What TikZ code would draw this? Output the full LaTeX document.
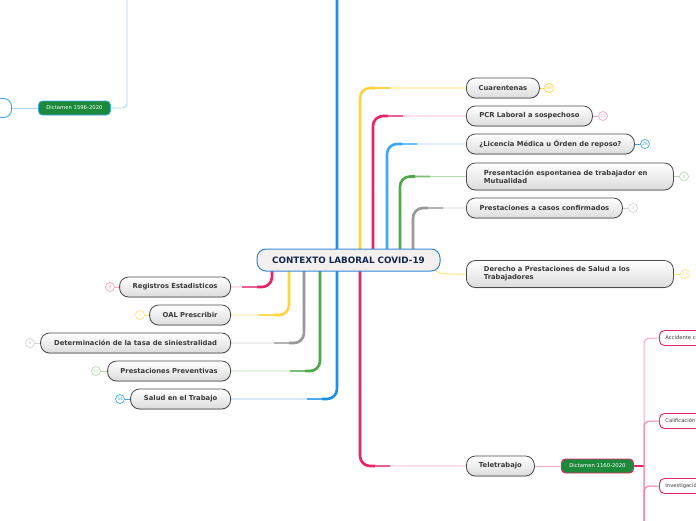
\documentclass[tikz,border=0pt]{standalone}
\usepackage{fontspec}
\newfontfamily\mmfont{DejaVu Sans}
\usetikzlibrary{shadows,calc}
\pgfdeclarelayer{back}
\pgfdeclarelayer{bg}
\pgfsetlayers{back,bg,main}
\definecolor{yelS}{HTML}{FFD53D}
\definecolor{yelL}{HTML}{FFE27A}
\definecolor{crimS}{HTML}{E3266B}
\definecolor{crimL}{HTML}{F6A5C2}
\definecolor{crimM}{HTML}{F07CA6}
\definecolor{lblueS}{HTML}{3FA9EE}
\definecolor{lblueL}{HTML}{A9D7F5}
\definecolor{greenS}{HTML}{4EA94B}
\definecolor{greenL}{HTML}{B3DCAE}
\definecolor{grayS}{HTML}{999999}
\definecolor{grayL}{HTML}{D2D2D2}
\definecolor{blueS}{HTML}{1E8FE6}
\definecolor{blueL}{HTML}{8CC8F2}
\definecolor{navy}{HTML}{13284D}
\definecolor{coreborder}{HTML}{3388D6}
\definecolor{corefill}{HTML}{F4F0F0}
\definecolor{topicborder}{HTML}{4A4A4A}
\definecolor{topicbot}{HTML}{DCDCDC}
\definecolor{topictext}{HTML}{3A3A3A}
\definecolor{dictgreen}{HTML}{1D8A3B}
\newcommand\mmbranch[5]{%
  \draw[line width=0.9pt,#4,rounded corners=10pt] (#1) |- (#2);
  \draw[line width=1.6pt,#3!55!#4,rounded corners=10pt] (#1) |- ($(#1 |- #2)+(2*#5,0)$);
  \draw[line width=2.6pt,#3,rounded corners=10pt] (#1) |- ($(#1 |- #2)+(#5,0)$);}
\tikzset{
  topic/.style={draw=topicborder, line width=0.8pt, rounded corners=9pt,
    top color=white, bottom color=topicbot, minimum height=20pt, inner sep=2pt,
    font=\mmfont\fontsize{6.8}{8.2}\selectfont\bfseries, text=topictext,
    drop shadow={shadow xshift=0pt, shadow yshift=-0.8pt, opacity=0.3}},
  topictwo/.style={topic, minimum height=27pt, text width=172pt, align=left},
  core/.style={draw=coreborder, line width=1pt, rounded corners=9pt, fill=corefill,
    minimum width=183pt, minimum height=22pt, inner sep=2pt,
    font=\mmfont\fontsize{8.8}{10}\selectfont\bfseries, text=navy},
  badge/.style={circle, draw=#1, text=#1, fill=white, line width=0.7pt,
    minimum size=9pt, inner sep=0pt, font=\mmfont\fontsize{4.3}{4.3}\selectfont},
  dict/.style={draw=#1, fill=dictgreen, line width=0.9pt, rounded corners=4pt,
    minimum width=72pt, minimum height=14pt, inner sep=1pt, text=white,
    font=\mmfont\fontsize{5.3}{6}\selectfont},
  child/.style={draw=crimS, fill=white, line width=0.9pt, rounded corners=5pt,
    minimum height=15pt, inner xsep=6pt, inner ysep=1pt, text=topictext,
    font=\mmfont\fontsize{5.2}{6}\selectfont},
  thinline/.style={line width=0.8pt}
}
\begin{document}
\begin{tikzpicture}[x=1pt,y=-1pt]
\useasboundingbox (0,0) rectangle (696,520);
\begin{pgfonlayer}{back}
  \fill[white] (0,0) rectangle (696,520);
\end{pgfonlayer}

% central node
\node[core] (ctr) at (348.5,260) {CONTEXTO LABORAL COVID-19};

% right topics
\node[topic, anchor=west, minimum width=73pt] (cuar) at (466,88) {Cuarentenas};
\node[topic, anchor=west, minimum width=126pt] (pcr) at (466,116) {PCR Laboral a sospechoso};
\node[topic, anchor=west, minimum width=168pt] (lic) at (466,144) {¿Licencia Médica u Órden de reposo?};
\node[topictwo, anchor=west, minimum width=207pt] (pres) at (466,176.5) {Presentación espontanea de trabajador en\\Mutualidad};
\node[topic, anchor=west, minimum width=156pt] (casos) at (466,208) {Prestaciones a casos confirmados};
\node[topictwo, anchor=west, minimum width=207pt] (der) at (466,274) {Derecho a Prestaciones de Salud a los\\Trabajadores};
\node[topic, anchor=west, minimum width=68pt] (tele) at (466,466) {Teletrabajo};

% left topics
\node[topic, anchor=east, minimum width=111pt] (reg) at (231,287) {Registros Estadisticos};
\node[topic, anchor=east, minimum width=81pt] (oal) at (231,315) {OAL Prescribir};
\node[topic, anchor=east, minimum width=190pt] (det) at (231,343) {Determinación de la tasa de siniestralidad};
\node[topic, anchor=east, minimum width=123pt] (prev) at (231,371) {Prestaciones Preventivas};
\node[topic, anchor=east, minimum width=100pt] (salud) at (231,399) {Salud en el Trabajo};

% badges
\node[badge=yelS] (b1) at (549,88) {68};
\node[badge=crimL] (b2) at (603,116) {12};
\node[badge=lblueS] (b3) at (645,144) {26};
\node[badge=greenL] (b4) at (684,176.5) {8};
\node[badge=grayL] (b5) at (633,208) {3};
\node[badge=yelL] (b6) at (685,274) {13};
\node[badge=crimL] (b7) at (110,287) {9};
\node[badge=yelL] (b8) at (140,315) {2};
\node[badge=grayL] (b9) at (30,343) {6};
\node[badge=greenL] (b10) at (96,371) {13};
\node[badge=lblueS] (b11) at (120,399) {54};

% dictamen nodes and sub nodes
\node[dict=crimS, anchor=west] (d1160) at (561,466) {Dictamen 1160-2020};
\node[dict=lblueS, anchor=west] (d1596) at (38,108) {Dictamen 1596-2020};
\node[draw=lblueS, fill=white, line width=0.9pt, rounded corners=8pt, minimum width=60pt, minimum height=19pt, anchor=east] (part) at (12,108) {};
\node[child, anchor=west] (acc) at (659,338) {Accidente con ocasión del teletrabajo};
\node[child, anchor=west] (cal) at (659,421) {Calificación de origen};
\node[child, anchor=west] (inv) at (659,486) {Investigación de accidentes};

% coordinates
\coordinate (topB) at (337,-5);
\coordinate (sY) at (360,255);
\coordinate (sC) at (373,255);
\coordinate (sLB) at (387,255);
\coordinate (sG) at (400,255);
\coordinate (sGr) at (413,255);
\coordinate (sT) at (360,265);
\coordinate (lC) at (272,265);
\coordinate (lY) at (289,265);
\coordinate (lGr) at (304,265);
\coordinate (lG) at (320,265);
\coordinate (dA) at (430,266);
\coordinate (trunk) at (644,466);
\coordinate (tb) at (644,530);
\coordinate (tl) at (127,-5);

\begin{pgfonlayer}{bg}
  % main blue trunk
  \draw[line width=0.9pt, blueL, rounded corners=10pt] (topB) |- (salud.east);
  \draw[line width=1.6pt, blueS!55!blueL, rounded corners=10pt] (topB) |- ($(topB |- salud.east)+(-30,0)$);
  \draw[line width=2.6pt, blueS, rounded corners=10pt] (topB) |- ($(topB |- salud.east)+(-15,0)$);
  % right branches
  \mmbranch{sY}{cuar.west}{yelS}{yelS}{15}
  \mmbranch{sC}{pcr.west}{crimS}{crimL}{15}
  \mmbranch{sLB}{lic.west}{lblueS}{lblueL}{15}
  \mmbranch{sG}{pres.west}{greenS}{greenL}{15}
  \mmbranch{sGr}{casos.west}{grayS}{grayL}{15}
  \mmbranch{sT}{tele.west}{crimS}{crimL}{15}
  % left branches
  \mmbranch{lC}{reg.east}{crimS}{crimL}{-15}
  \mmbranch{lY}{oal.east}{yelS}{yelL}{-15}
  \mmbranch{lGr}{det.east}{grayS}{grayL}{-15}
  \mmbranch{lG}{prev.east}{greenS}{greenL}{-15}
  % derecho
  \draw[line width=1pt, yelL] (dA) .. controls (440,274) .. (452,274) -- (der.west);
  % badge links
  \draw[thinline, yelS] (cuar.east) -- (b1);
  \draw[thinline, crimL] (pcr.east) -- (b2);
  \draw[thinline, lblueS] (lic.east) -- (b3);
  \draw[thinline, greenL] (pres.east) -- (b4);
  \draw[thinline, grayL] (casos.east) -- (b5);
  \draw[thinline, yelL] (der.east) -- (b6);
  \draw[thinline, crimL] (reg.west) -- (b7);
  \draw[thinline, yelL] (oal.west) -- (b8);
  \draw[thinline, grayL] (det.west) -- (b9);
  \draw[thinline, greenL] (prev.west) -- (b10);
  \draw[thinline, lblueS] (salud.west) -- (b11);
  % teletrabajo sub-tree
  \draw[line width=0.9pt, crimL] (tele.east) -- (d1160.west);
  \draw[line width=1.8pt, crimS] (d1160.east) -- (trunk);
  \draw[line width=1pt, crimL, rounded corners=6pt] (acc.west) -| (tb);
  \draw[line width=1pt, crimM, rounded corners=6pt] (cal.west) -| (tb);
  \draw[line width=1pt, crimM, rounded corners=6pt] (inv.west) -| (tb);
  % top-left sub-tree
  \draw[line width=0.9pt, lblueL] (part.east) -- (d1596.west);
  \draw[line width=0.9pt, lblueL, rounded corners=4pt] (d1596.east) -| (tl);
\end{pgfonlayer}
\end{tikzpicture}
\end{document}
